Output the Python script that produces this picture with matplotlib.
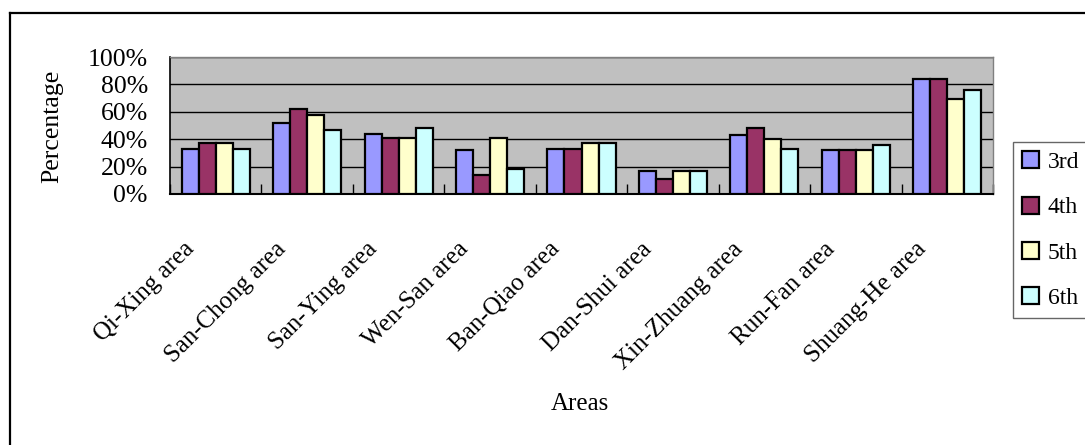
import numpy as np
import matplotlib
matplotlib.use("Agg")
from matplotlib import pyplot as plt
from matplotlib import transforms
from matplotlib.lines import Line2D

plt.rcParams["font.family"] = ["Liberation Serif", "DejaVu Serif"]

# survey results per area, one list per round
areas = ["Qi-Xing area", "San-Chong area", "San-Ying area", "Wen-San area",
         "Ban-Qiao area", "Dan-Shui area", "Xin-Zhuang area", "Run-Fan area",
         "Shuang-He area"]
rounds = ["3rd", "4th", "5th", "6th"]
pct_3rd = [33, 52, 44, 32, 33, 17, 43, 32, 84]
pct_4th = [37, 62, 41, 14, 33, 11, 48, 32, 84]
pct_5th = [37, 58, 41, 41, 37, 17, 40, 32, 69]
pct_6th = [33, 47, 48, 18, 37, 17, 33, 36, 76]
yticks = [0, 20, 40, 60, 80, 100]
ytick_labels = ["0%", "20%", "40%", "60%", "80%", "100%"]

colores = ["#9999FF", "#993366", "#FFFFCC", "#CCFFFF"]
W, H = 1085, 445
fs = 18

fig = plt.figure(figsize=(W / 100, H / 100), dpi=100)
ax = fig.add_axes([170 / W, 1 - 194 / H, (993 - 170) / W, (194 - 57) / H])
ax.set_facecolor("#C0C0C0")

x = np.arange(len(areas))
ancho = 0.186
series = [pct_3rd, pct_4th, pct_5th, pct_6th]
for j, (vals, nombre) in enumerate(zip(series, rounds)):
    ax.bar(x + (j - 1.5) * ancho, vals, width=ancho, color=colores[j],
           edgecolor="black", linewidth=1.6, label=nombre, zorder=3)

ax.set_xlim(-0.5, len(areas) - 0.5)
ax.set_ylim(0, 100)
ax.set_yticks(yticks)
ax.set_yticklabels(ytick_labels, fontsize=18.5)
ax.yaxis.grid(True, color="black", linewidth=1, zorder=1)
ax.set_axisbelow(True)
ax.tick_params(axis="y", direction="in", length=0, pad=16)

# ticks between the groups, pointing up into the plot
ax.set_xticks([])
ax.set_xticks(np.arange(len(areas) + 1) - 0.5, minor=True)
ax.tick_params(axis="x", which="minor", direction="in", length=7, width=1,
               color="black")

for lado in ["top", "right"]:
    ax.spines[lado].set_color("#808080")
    ax.spines[lado].set_linewidth(1)
ax.spines["bottom"].set_linewidth(1.5)
ax.spines["left"].set_linewidth(1.2)

# rotated area names under each group
trans = transforms.blended_transform_factory(ax.transData, ax.transAxes) + \
    transforms.ScaledTranslation(-17 / 100, -44 / 100, fig.dpi_scale_trans)
for xi, nombre in zip(x, areas):
    ax.text(xi, 0, nombre, transform=trans, rotation=45, ha="right", va="top",
            fontsize=fs)

fig.text(52 / W, 1 - 126 / H, "Percentage", rotation=90, ha="center",
         va="center", fontsize=18.5)
fig.text(580 / W, 1 - 404 / H, "Areas", ha="center", va="center", fontsize=fs)

leg = fig.legend(loc="upper left", bbox_to_anchor=(1013 / W, 1 - 142 / H),
                 bbox_transform=fig.transFigure, borderaxespad=0, fontsize=17,
                 frameon=True, fancybox=False, handlelength=0.72,
                 handleheight=0.72, handletextpad=0.35, labelspacing=1.0,
                 borderpad=0.4)
leg.get_frame().set_edgecolor("#404040")
leg.get_frame().set_linewidth(1)

# outer chart border
fig.add_artist(Line2D([9.5 / W, 9.5 / W], [0, 1 - 12.5 / H], color="black",
                      linewidth=1.6, transform=fig.transFigure))
fig.add_artist(Line2D([9.5 / W, 1], [1 - 12.5 / H, 1 - 12.5 / H],
                      color="black", linewidth=1.6, transform=fig.transFigure))

plt.savefig("out.png", dpi=100)
